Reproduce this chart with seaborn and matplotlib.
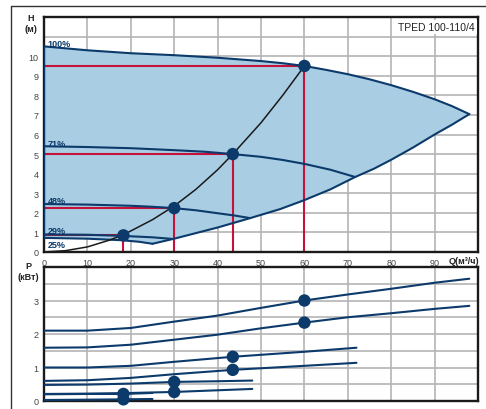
import numpy as np
import pandas as pd
import matplotlib
matplotlib.use('Agg')
import matplotlib.pyplot as plt
import seaborn as sns

# ---- head curves (Q in m3/h, H in m) ----
q_100 = [0, 5, 10, 20, 30, 40, 50, 55, 60, 65, 70, 75, 80, 85, 90, 94, 98]
h_100 = [10.5, 10.4, 10.3, 10.15, 10.05, 9.92, 9.75, 9.64, 9.5, 9.3, 9.08,
         8.82, 8.52, 8.18, 7.8, 7.45, 7.04]
q_71 = [0, 10, 20, 30, 37, 43.5, 50, 55, 60, 66, 71.7]
h_71 = [5.4, 5.36, 5.3, 5.2, 5.12, 5.0, 4.86, 4.7, 4.5, 4.2, 3.83]
q_48 = [0, 10, 20, 25, 30, 35, 40, 44, 47.5]
h_48 = [2.45, 2.42, 2.36, 2.31, 2.24, 2.13, 1.98, 1.86, 1.73]
q_29 = [0, 10, 18.3, 25, 29.5]
h_29 = [0.9, 0.88, 0.82, 0.75, 0.67]
q_25 = [0, 10, 18, 22, 25]
h_25 = [0.72, 0.68, 0.6, 0.52, 0.42]
q_max = [25, 30, 40, 47.5, 54.4, 60, 66, 71.7, 76, 80, 85, 90, 94, 98]
h_max = [0.42, 0.68, 1.25, 1.73, 2.19, 2.65, 3.2, 3.83, 4.25, 4.71, 5.33,
         6.0, 6.5, 7.04]

# system curve
q_sys = [0, 5, 10, 15, 18.3, 25, 30, 35, 40, 43.5, 50, 55, 60]
h_sys = [0, 0.07, 0.26, 0.6, 0.88, 1.65, 2.35, 3.2, 4.2, 5.0, 6.6, 8.0, 9.5]

# duty points
q_duty = [60, 43.5, 30, 18.3]
h_duty = [9.5, 5.0, 2.24, 0.85]

speed_labels = ['100%', '71%', '48%', '29%', '25%']
label_h = [10.65, 5.56, 2.65, 1.12, 0.36]

# ---- power curves (P in kW) ----
pq_100 = [0, 10, 20, 30, 40, 50, 60, 70, 80, 90, 98]
p1_100 = [2.1, 2.1, 2.18, 2.37, 2.55, 2.78, 3.0, 3.18, 3.35, 3.53, 3.65]
p2_100 = [1.59, 1.6, 1.68, 1.83, 1.98, 2.17, 2.34, 2.5, 2.62, 2.75, 2.84]
pq_71 = [0, 10, 20, 30, 43.5, 60, 72]
p1_71 = [1.0, 1.0, 1.05, 1.17, 1.32, 1.47, 1.59]
p2_71 = [0.6, 0.62, 0.69, 0.8, 0.93, 1.05, 1.14]
pq_48 = [0, 10, 20, 30, 40, 48]
p1_48 = [0.48, 0.49, 0.52, 0.57, 0.59, 0.61]
p2_48 = [0.21, 0.22, 0.24, 0.27, 0.32, 0.36]
pq_29 = [0, 10, 18.3, 25]
p1_29 = [0.2, 0.21, 0.21, 0.24]
p2_29 = [0.03, 0.04, 0.05, 0.06]

pdot_q = [60, 60, 43.5, 43.5, 30, 30, 18.3, 18.3]
pdot_p = [3.0, 2.34, 1.32, 0.93, 0.57, 0.27, 0.21, 0.05]

x_ticks = list(range(0, 101, 10))
x_tick_labels = ['0', '10', '20', '30', '40', '50', '60', '70', '80', '90', '']

navy = '#0b3a6b'
fill_blue = '#a9cde3'
red = '#c4123a'
grid_c = '#b4b4b4'

sns.set_style('white')
plt.rcParams['font.family'] = ['Liberation Sans', 'DejaVu Sans']

fig = plt.figure(figsize=(4.86, 4.10), dpi=100)
ax = fig.add_axes([44 / 486, 1 - 253 / 410, 434 / 486, 235 / 410])
ax2 = fig.add_axes([44 / 486, 1 - 402 / 410, 434 / 486, 134 / 410])

for a in (ax, ax2):
    a.set_xlim(0, 100)
    a.set_xticks(x_ticks)
    a.grid(True, color=grid_c, lw=1.2, zorder=0)
    a.set_axisbelow(True)
    for s in a.spines.values():
        s.set_linewidth(1.7)
        s.set_color('#1a1a1a')
    a.tick_params(length=0, labelsize=6.5, labelcolor='#444444', pad=4)

# ---- top chart ----
ax.set_ylim(0, 12)
ax.set_yticks(range(0, 13))
ax.set_yticklabels([str(i) for i in range(0, 11)] + ['', ''])
ax.set_xticklabels(x_tick_labels)

poly_x = q_100 + q_max[::-1] + q_25[::-1]
poly_y = h_100 + h_max[::-1] + h_25[::-1]
ax.fill(poly_x, poly_y, color=fill_blue, lw=0, zorder=1)

ax.hlines(h_duty, 0, q_duty, color=red, lw=1.5, zorder=2)
ax.vlines(q_duty, 0, h_duty, color=red, lw=1.5, zorder=2)

for q, h in [(q_100, h_100), (q_71, h_71), (q_48, h_48), (q_29, h_29),
             (q_25, h_25), (q_max, h_max)]:
    sns.lineplot(x=q, y=h, ax=ax, color=navy, lw=1.5, sort=False,
                 estimator=None, zorder=3)
sns.lineplot(x=q_sys, y=h_sys, ax=ax, color='#1a1a1a', lw=1.1, sort=False,
             estimator=None, zorder=4)
sns.scatterplot(x=q_duty, y=h_duty, ax=ax, color=navy, s=80, edgecolor='none',
                zorder=5)
ax.plot([0, 0], [h_25[0], h_100[0]], color=navy, lw=1.5, zorder=3)

for lab, hy in zip(speed_labels, label_h):
    ax.text(0.8, hy, lab, fontsize=6.5, fontweight='bold', color=navy,
            ha='left', va='center', zorder=6)

ax.text(99.2, 11.48, 'TPED 100-110/4', fontsize=7.5, color='#222222',
        ha='right', va='center', zorder=6,
        bbox=dict(facecolor='white', edgecolor='none', pad=1.5))
ax.set_xlabel('')
ax.set_ylabel('')

# ---- bottom chart ----
ax2.set_ylim(0, 4)
ax2.set_yticks(np.arange(0, 4.01, 0.5))
ax2.set_yticklabels(['0', '', '1', '', '2', '', '3', '', ''])
ax2.set_xticklabels([])

for q, p in [(pq_100, p1_100), (pq_100, p2_100), (pq_71, p1_71), (pq_71, p2_71),
             (pq_48, p1_48), (pq_48, p2_48), (pq_29, p1_29), (pq_29, p2_29)]:
    sns.lineplot(x=q, y=p, ax=ax2, color=navy, lw=1.5, sort=False,
                 estimator=None, zorder=3)
sns.scatterplot(x=pdot_q, y=pdot_p, ax=ax2, color=navy, s=80, edgecolor='none',
                zorder=5, clip_on=False)
ax2.set_xlabel('')
ax2.set_ylabel('')

# ---- axis captions ----
fig.text(31 / 486, 1 - 24 / 410, 'H\n(м)', fontsize=6.5, fontweight='bold',
         ha='center', va='center', color='#222222', linespacing=1.3)
fig.text(28 / 486, 1 - 272 / 410, 'P\n(кВт)', fontsize=6.5, fontweight='bold',
         ha='center', va='center', color='#222222', linespacing=1.3)
fig.text(449 / 486, 1 - 261 / 410, 'Q(м³/ч)', fontsize=6.5, fontweight='bold',
         ha='left', va='center', color='#222222')

# outer frame
fig.add_artist(plt.Line2D([11 / 486, 1], [1 - 7 / 410, 1 - 7 / 410],
                          color='#333333', lw=1.0))
fig.add_artist(plt.Line2D([11 / 486, 11 / 486], [0, 1 - 7 / 410],
                          color='#333333', lw=1.0))

fig.savefig('out.png', dpi=100)
